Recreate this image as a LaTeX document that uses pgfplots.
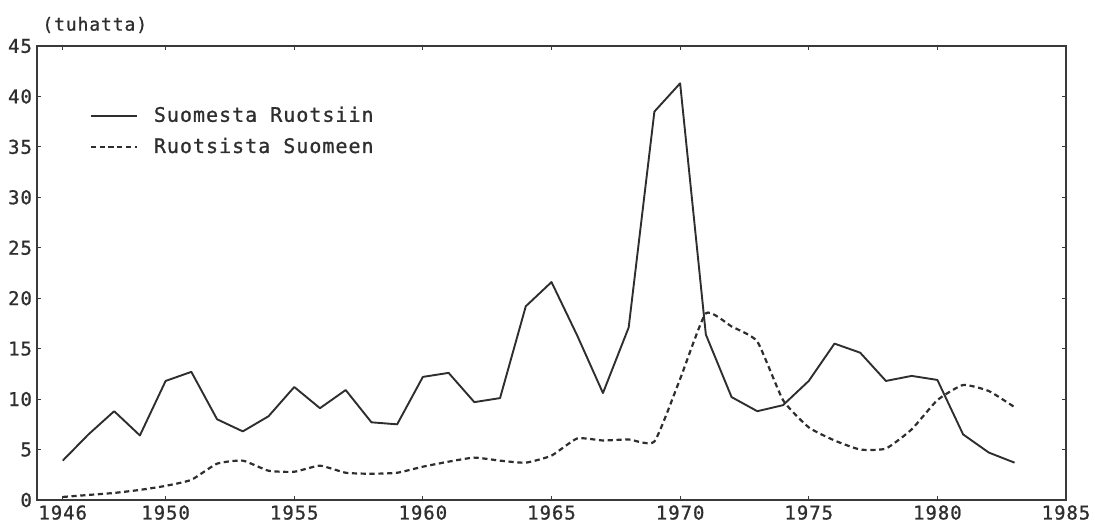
\documentclass[border=0pt]{standalone}
\usepackage{pgfplots}
\pgfplotsset{compat=1.18}
\usepackage{fontspec}
\newfontfamily\chartfont[LetterSpace=5,FakeBold=1]{DejaVu Sans Mono}
\definecolor{ink}{HTML}{2E2E2E}
\definecolor{axink}{HTML}{3A3A3A}
\pgfplotstableread{
year val
1946 3.9
1947 6.5
1948 8.8
1949 6.4
1950 11.8
1951 12.7
1952 8.0
1953 6.8
1954 8.3
1955 11.2
1956 9.1
1957 10.9
1958 7.7
1959 7.5
1960 12.2
1961 12.6
1962 9.7
1963 10.1
1964 19.2
1965 21.6
1966 16.3
1967 10.6
1968 17.1
1969 38.5
1970 41.3
1971 16.4
1972 10.2
1973 8.8
1974 9.4
1975 11.8
1976 15.5
1977 14.6
1978 11.8
1979 12.3
1980 11.9
1981 6.5
1982 4.7
1983 3.7
}\fitoswe
\pgfplotstableread{
year val
1946 0.3
1947 0.5
1948 0.7
1949 1.0
1950 1.4
1951 2.0
1952 3.6
1953 3.9
1954 2.9
1955 2.8
1956 3.4
1957 2.7
1958 2.6
1959 2.7
1960 3.3
1961 3.8
1962 4.2
1963 3.9
1964 3.7
1965 4.4
1966 6.1
1967 5.9
1968 6.0
1969 5.8
1970 12.0
1971 18.5
1972 17.2
1973 15.7
1974 9.9
1975 7.2
1976 5.9
1977 5.0
1978 5.1
1979 7.0
1980 9.9
1981 11.4
1982 10.8
1983 9.2
}\swetofi
\begin{document}
\begin{tikzpicture}
\path[use as bounding box] (-18.5pt,-14pt) rectangle (529pt,250pt);
\begin{axis}[
  scale only axis,
  width=514.5pt, height=227pt,
  xmin=1945, xmax=1985,
  ymin=0, ymax=45,
  xtick={1946,1950,1955,1960,1965,1970,1975,1980,1985},
  ytick={0,5,...,45},
  tick align=inside,
  major tick length=2pt,
  tick style={axink, line width=0.6pt},
  axis line style={axink, line width=0.8pt},
  /pgf/number format/assume math mode=true,
  /pgf/number format/1000 sep={},
  ticklabel style={font=\chartfont\fontsize{9.5}{11}\selectfont, text=ink},
  xticklabel style={yshift=-1pt, inner ysep=1.5pt},
  yticklabel style={xshift=1pt},
  legend style={draw=none, fill=none, at={(0.045,0.885)}, anchor=north west,
    font=\chartfont\fontsize{10}{12}\selectfont, text=ink,
    row sep=2.5pt,
    /tikz/every odd column/.append style={column sep=6pt}},
  legend cell align=left,
  legend image code/.code={\draw[#1] (0pt,0pt) -- (23pt,0pt);},
  clip=false,
]
\addplot[ink, line width=0.95pt, line join=round] table[x=year,y=val] {\fitoswe};
\addlegendentry{Suomesta Ruotsiin}
\addplot[ink, line width=1.1pt, dash pattern=on 2.6pt off 1.8pt, smooth, tension=0.3] table[x=year,y=val] {\swetofi};
\addlegendentry{Ruotsista Suomeen}
\node[anchor=west, font=\chartfont\fontsize{9}{11}\selectfont, text=ink, inner sep=0pt]
  at (rel axis cs:0,1) [xshift=2.5pt, yshift=10.5pt] {(tuhatta)};
\end{axis}
\end{tikzpicture}
\end{document}
